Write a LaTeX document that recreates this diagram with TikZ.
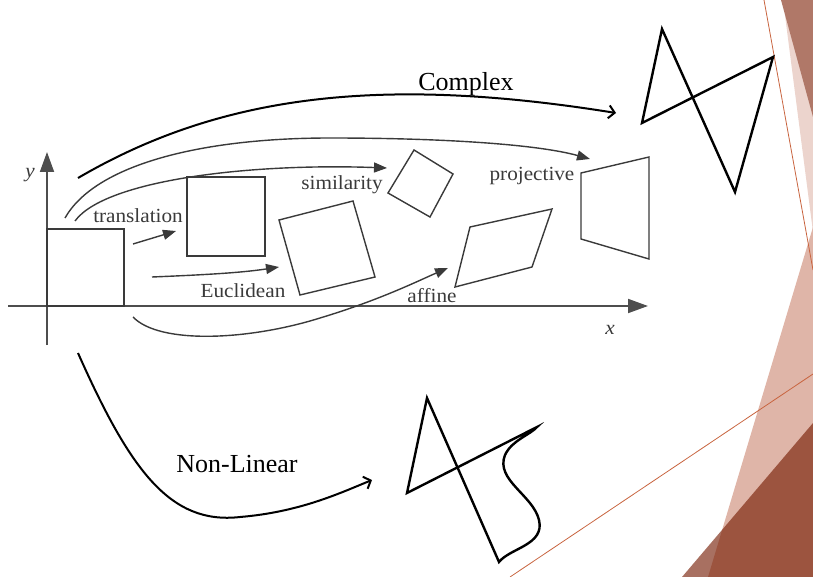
\documentclass[tikz,border=0pt]{standalone}
\usepackage{fontspec}
\setmainfont{Liberation Serif}
\usetikzlibrary{arrows.meta}
\definecolor{scan}{HTML}{3A3A3A}
\definecolor{axisgray}{HTML}{4E4E4E}
\definecolor{rust}{RGB}{116,26,1}
\definecolor{pinkA}{HTML}{DFB5A8}
\definecolor{pinkB}{HTML}{ECD4CD}
\definecolor{brownA}{HTML}{B07868}
\definecolor{thinline}{HTML}{C8643F}
\tikzset{
  scanlbl/.style={font=\fontsize{20}{24}\selectfont, text=scan, inner sep=0pt, anchor=base, xscale=1.06, transform shape},
  slidelbl/.style={font=\fontsize{26}{30}\selectfont, text=black, inner sep=0pt, anchor=base},
  axisline/.style={draw=axisgray, line width=1.8pt, -{Triangle[length=20pt,width=14pt]}},
  shapeline/.style={draw=scan, line width=1.4pt, line join=miter},
  scanarrow/.style={draw=scan, line width=1.4pt, -{Triangle[length=13pt,width=10pt]}},
  bigarrow/.style={draw=black, line width=2pt, -{Straight Barb[length=6pt,width=13pt]}},
  figline/.style={draw=black, line width=2.4pt, line join=miter},
  deco/.style={draw=thinline, line width=0.8pt}
}
\begin{document}
\begin{tikzpicture}[x=1pt,y=-1pt]
\useasboundingbox (0,0) rectangle (813,577);
% ---------- slide decoration ----------
\fill[pinkB] (783,0) -- (813,0) -- (813,232) -- cycle;
\fill[brownA] (781,0) -- (813,0) -- (813,117) -- cycle;
\fill[pinkA] (813,227) -- (708,577) -- (813,577) -- cycle;
\fill[rust, fill opacity=0.625] (813,423) -- (682,577) -- (813,577) -- cycle;
\draw[deco] (764,0) -- (813,270);
\draw[deco] (510,577) -- (813,374);
% ---------- axes ----------
\coordinate (xs) at (8,306);
\coordinate (xe) at (648,306);
\coordinate (ys) at (47,345);
\coordinate (ye) at (47,152);
\draw[axisline] (xs) -- (xe);
\draw[axisline] (ys) -- (ye);
\node[scanlbl, font=\fontsize{20}{24}\selectfont\itshape] (ylbl) at (30,178) {y};
\node[scanlbl, font=\fontsize{20}{24}\selectfont\itshape] (xlbl) at (610,334) {x};
% ---------- shapes of the scanned figure ----------
\draw[shapeline] (47,229) rectangle (124,306);
\draw[shapeline] (187,177) rectangle (265,256);
\draw[shapeline] (279,220) -- (353,201) -- (375,277) -- (300,295) -- cycle;
\draw[shapeline] (414,150) -- (453,174) -- (430,217) -- (388,193) -- cycle;
\draw[shapeline] (470,227) -- (552,209) -- (532,267) -- (455,287) -- cycle;
\draw[shapeline] (581,173) -- (649,157) -- (649,259) -- (581,239) -- cycle;
% ---------- labels ----------
\node[scanlbl] (ltrans) at (138,223) {translation};
\node[scanlbl] (leucl) at (243,297) {Euclidean};
\node[scanlbl] (lsim) at (342,190) {similarity};
\node[scanlbl] (lproj) at (532,181) {projective};
\node[scanlbl] (laff) at (432,302) {affine};
% ---------- scanned arrows ----------
\coordinate (ta) at (133,244);
\coordinate (tb) at (176,231);
\draw[scanarrow] (ta) -- (tb);
\coordinate (ea) at (152,277);
\coordinate (eb) at (279,267);
\draw[scanarrow] (ea) .. controls (200,275) and (240,273) .. (eb);
\coordinate (sa) at (75,221);
\coordinate (sb) at (387,168);
\draw[scanarrow] (sa) .. controls (105,180) and (250,163) .. (sb);
\coordinate (pa) at (65,218);
\coordinate (pm) at (330,138);
\coordinate (pb) at (590,159);
\draw[scanarrow] (pa) .. controls (95,165) and (200,138) .. (pm) .. controls (450,138) and (540,145) .. (pb);
\coordinate (aa) at (133,317);
\coordinate (am) at (320,318);
\coordinate (ab) at (448,268);
\draw[scanarrow] (aa) .. controls (160,345) and (250,340) .. (am) .. controls (380,300) and (420,280) .. (ab);
% ---------- Complex ----------
\coordinate (ca) at (78,178);
\coordinate (cb) at (616,113);
\draw[bigarrow] (ca) .. controls (220,95) and (380,75) .. (cb);
\node[slidelbl] (lcomplex) at (466,91) {Complex};
\draw[figline] (642,123) -- (662,29) -- (735,192) -- (773,57) -- cycle;
% ---------- Non-Linear ----------
\coordinate (na) at (78,353);
\coordinate (nm) at (240,517);
\coordinate (nb) at (372,480);
\draw[bigarrow] (na) .. controls (130,470) and (170,525) .. (nm) .. controls (300,512) and (340,493) .. (nb);
\node[slidelbl] (lnonlin) at (237,472) {Non-Linear};
\draw[figline] (537,427) -- (407,493) -- (427,398) -- (499,562)
  .. controls (510,548) and (545,545) .. (539,520)
  .. controls (533,495) and (495,480) .. (505,455)
  .. controls (512,440) and (530,435) .. (537,427) -- cycle;
\end{tikzpicture}
\end{document}
